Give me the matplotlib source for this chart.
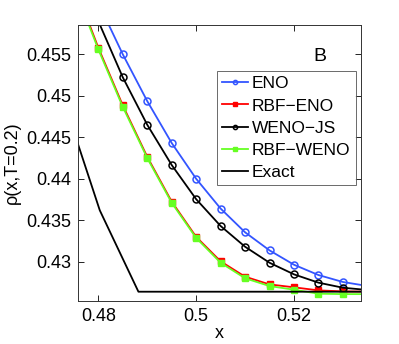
import numpy as np
import matplotlib
matplotlib.use("Agg")
import matplotlib.pyplot as plt

plt.rcParams['font.family'] = ['Liberation Sans', 'DejaVu Sans']

# grid points of the schemes
x_num = [0.475, 0.48, 0.485, 0.49, 0.495, 0.5, 0.505, 0.51, 0.515, 0.52, 0.525, 0.53, 0.535]

eno = [0.4680, 0.4612, 0.4550, 0.44936, 0.44431, 0.4400, 0.43641, 0.43355, 0.43137,
       0.42964, 0.42840, 0.42756, 0.42708]
rbf_eno = [0.4635, 0.4558, 0.44885, 0.44265, 0.43725, 0.43300, 0.43005, 0.42820, 0.42727,
           0.42692, 0.42655, 0.42643, 0.42640]
weno_js = [0.4660, 0.4590, 0.45223, 0.44651, 0.44166, 0.43754, 0.43431, 0.43181, 0.42988,
           0.42848, 0.42748, 0.42687, 0.42660]
rbf_weno = [0.4632, 0.4556, 0.44867, 0.44250, 0.43711, 0.43287, 0.42988, 0.42801, 0.42707,
            0.42663, 0.42615, 0.42610, 0.42610]

x_exact = [0.4755, 0.4803, 0.4882, 0.54]
exact = [0.4448, 0.4362, 0.42639, 0.42639]

fig = plt.figure(figsize=(3.99, 3.44), dpi=100)
ax = fig.add_axes([0.1955, 0.125, 0.7093, 0.8023])

ax.plot(x_num, eno, '-o', color='#3355ff', lw=1.3, ms=5, mfc='none', mew=1.1, label='ENO')
ax.plot(x_num, rbf_eno, '-s', color='#ff0000', lw=1.3, ms=4, label='RBF\u2212ENO')
ax.plot(x_num, weno_js, '-o', color='black', lw=1.3, ms=5, mfc='none', mew=1.1, label='WENO\u2212JS')
ax.plot(x_num, rbf_weno, '-s', color='#66ff22', lw=1.3, ms=4, label='RBF\u2212WENO')
ax.plot(x_exact, exact, '-', color='black', lw=1.3, label='Exact')

ax.set_xlim(0.47585, 0.5337)
ax.set_ylim(0.42527, 0.45853)
ax.set_xticks([0.48, 0.5, 0.52])
ax.set_xticklabels(['0.48', '0.5', '0.52'])
ax.set_yticks([0.43, 0.435, 0.44, 0.445, 0.45, 0.455])
ax.set_yticklabels(['0.43', '0.435', '0.44', '0.445', '0.45', '0.455'])
ax.tick_params(direction='in', top=True, right=True, labelsize=13, length=4, width=0.6, pad=5)
for s in ax.spines.values():
    s.set_linewidth(0.7)
    s.set_color('#333333')

ax.set_xlabel('x', fontsize=13, labelpad=0)
ax.set_ylabel('\u03c1(x,T=0.2)', fontsize=13, labelpad=4)

ax.text(0.855, 0.885, 'B', transform=ax.transAxes, fontsize=14, ha='center', va='center')

leg = ax.legend(loc='upper right', bbox_to_anchor=(0.981, 0.833), fontsize=12.5, frameon=True,
                fancybox=False, handlelength=1.5, handletextpad=0.2, borderpad=0.3,
                labelspacing=0.4, markerscale=0.6, borderaxespad=0)
leg.get_frame().set_edgecolor('#444444')
leg.get_frame().set_linewidth(0.7)

fig.savefig('out.png', dpi=100)
